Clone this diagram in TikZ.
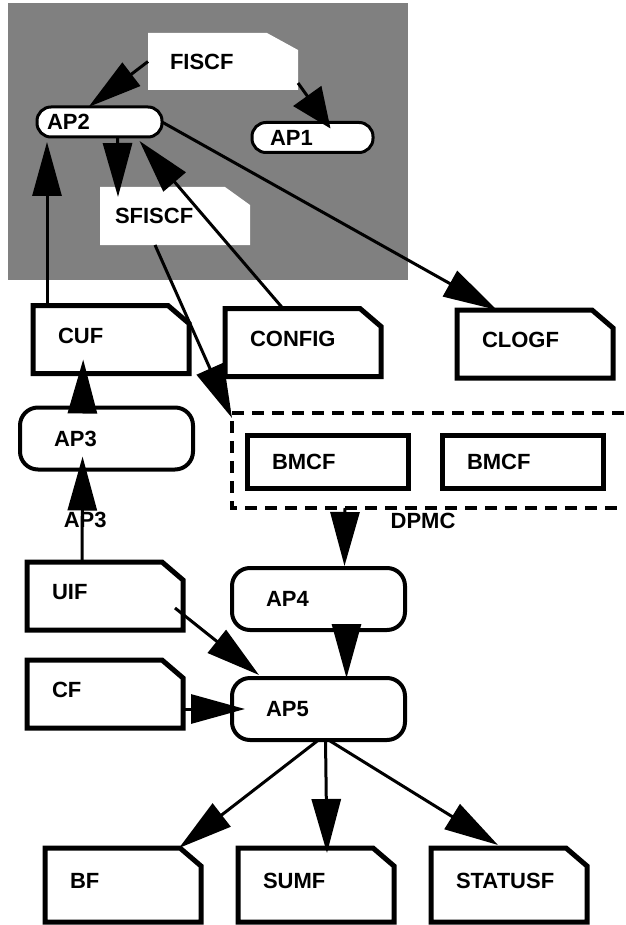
\documentclass[tikz,border=0pt]{standalone}
\usepackage{fontspec}
\setmainfont{Liberation Sans}
\usetikzlibrary{arrows.meta,positioning,backgrounds}

\tikzset{
  every node/.style={font=\fontsize{22}{25}\selectfont\bfseries},
  file/.style={outer sep=0pt, minimum height=68pt, text width=106pt, inner xsep=25pt, text depth=8pt, align=left},
  whitefile/.style={outer sep=0pt, minimum height=57pt, align=left},
  proc/.style={draw, line width=4pt, outer sep=0pt, rounded corners=18pt, minimum height=62pt, text width=105pt, inner xsep=34pt, align=left},
  smallproc/.style={draw, fill=white, line width=3pt, outer sep=0pt, rounded corners=14pt, minimum height=30pt, inner ysep=0pt, align=left},
  store/.style={draw, line width=5pt, outer sep=0pt, minimum height=53pt, text width=111pt, inner xsep=25pt, align=left},
  fileline/.style={line width=5pt, line join=miter},
  dashbox/.style={line width=3.5pt, dash pattern=on 12pt off 8pt},
  arr/.style={line width=3pt, -{Triangle[length=54pt,width=29pt]}},
}

\begin{document}
\begin{tikzpicture}[x=1pt, y=-1pt]
  \useasboundingbox (0,0) rectangle (625,925);

  % shaded part
  \node[whitefile, text width=106pt, inner xsep=22pt] (fiscf) at (223,61.5) {FISCF};
  \node[whitefile, minimum height=58pt, text width=120pt, inner xsep=15pt] (sfiscf) at (175,216) {SFISCF};
  \node[smallproc, text width=105pt, inner xsep=10pt] (ap2) at (99.5,122) {AP2};
  \node[smallproc, text width=85pt, inner xsep=18pt] (ap1) at (312.5,137.5) {AP1};

  % files
  \node[file] (cuf) at (111,339.5) {CUF};
  \node[file] (config) at (303,342.5) {CONFIG};
  \node[file] (clogf) at (535,344) {CLOGF};
  \node[file] (uif) at (105,596) {UIF};
  \node[file] (cf) [below=30pt of uif] {CF};
  \node[file, minimum height=74pt] (bf) at (123,885) {BF};
  \node[file, minimum height=74pt] (sumf) [right=37pt of bf] {SUMF};
  \node[file, minimum height=74pt] (statusf) [right=37pt of sumf] {STATUSF};

  % processes
  \node[proc] (ap3) at (106.5,438.5) {AP3};
  \node[proc] (ap4) at (318.5,599) {AP4};
  \node[proc] (ap5) [below=48pt of ap4] {AP5};

  % DPMC
  \node[minimum width=392pt, minimum height=95pt, inner sep=0pt, outer sep=0pt] (dpmc) at (428,460.5) {};
  \node[store] (bmcf1) at (327.5,461.5) {BMCF};
  \node[store] (bmcf2) [right=34pt of bmcf1] {BMCF};
  \node (dpmclabel) at (423,521) {DPMC};
  \draw[dashbox] (dpmc.north east) -- (dpmc.north west) -- (dpmc.south west) -- (dpmc.south east);

  \begin{scope}[on background layer]
    \fill[black!50] (8,3) rectangle (408,280);
    \foreach \f/\cx/\cy in {fiscf/31/17, sfiscf/25/18}
      \fill[white] (\f.north west) -- ([xshift=-\cx pt]\f.north east) -- ([yshift=-\cy pt]\f.north east)
        -- (\f.south east) -- (\f.south west) -- cycle;
  \end{scope}

  \foreach \f in {cuf,config,clogf,uif,cf,bf,sumf,statusf}
    \draw[fileline] (\f.north west) -- ([xshift=-21pt]\f.north east) -- ([yshift=-18pt]\f.north east)
      -- (\f.south east) -- (\f.south west) -- cycle;

  % arrows
  \draw[arr] (fiscf.west) -- ([xshift=-11pt]ap2.north);
  \draw[line width=3pt, -{Triangle[length=40pt,width=34pt]}] ([yshift=7pt]fiscf.south east) -- ([xshift=18pt, yshift=-6pt]ap1.north);
  \draw[arr] ([xshift=18pt]ap2.south) -- ([xshift=18pt, yshift=-10pt]sfiscf.north west);
  \draw[arr] ([xshift=-20pt]config.north) -- ([xshift=40pt, yshift=-4pt]ap2.south);
  \draw[arr] (ap2.east) -- ([xshift=-38pt]clogf.north);
  \draw[arr] ([xshift=14pt]cuf.north west) -- ([xshift=10pt, yshift=-5pt]ap2.south west);
  \draw[arr] ([xshift=-20pt]sfiscf.south) -- ([yshift=-5pt]dpmc.north west);
  \draw[arr, shorten <=-11pt, shorten >=-14pt] ([xshift=-24pt]ap3.north) -- ([xshift=-28pt]cuf.south);
  \draw[arr, shorten >=-13pt] ([xshift=-23pt]uif.north) -- ([xshift=-24pt]ap3.south)
    node[pos=0.45, xshift=3pt] {AP3};
  \draw[arr] ([xshift=-83pt]dpmc.south) -- ([xshift=26pt, yshift=2pt]ap4.north);
  \draw[arr, shorten <=-8pt] ([xshift=28pt]ap4.south) -- ([xshift=28pt]ap5.north);
  \draw[arr] ([xshift=-8pt, yshift=-12pt]uif.east) -- ([xshift=27pt, yshift=3pt]ap5.north west);
  \draw[arr, shorten >=-13pt] (cf.east |- ap5.west) -- (ap5.west);
  \draw[arr] (ap5.south) -- ([xshift=-22pt]bf.north east);
  \draw[arr] ([xshift=7pt]ap5.south) -- ([xshift=11pt, yshift=-5pt]sumf.north);
  \draw[arr] ([xshift=10pt]ap5.south) -- ([xshift=-11pt, yshift=3pt]statusf.north);
\end{tikzpicture}
\end{document}
